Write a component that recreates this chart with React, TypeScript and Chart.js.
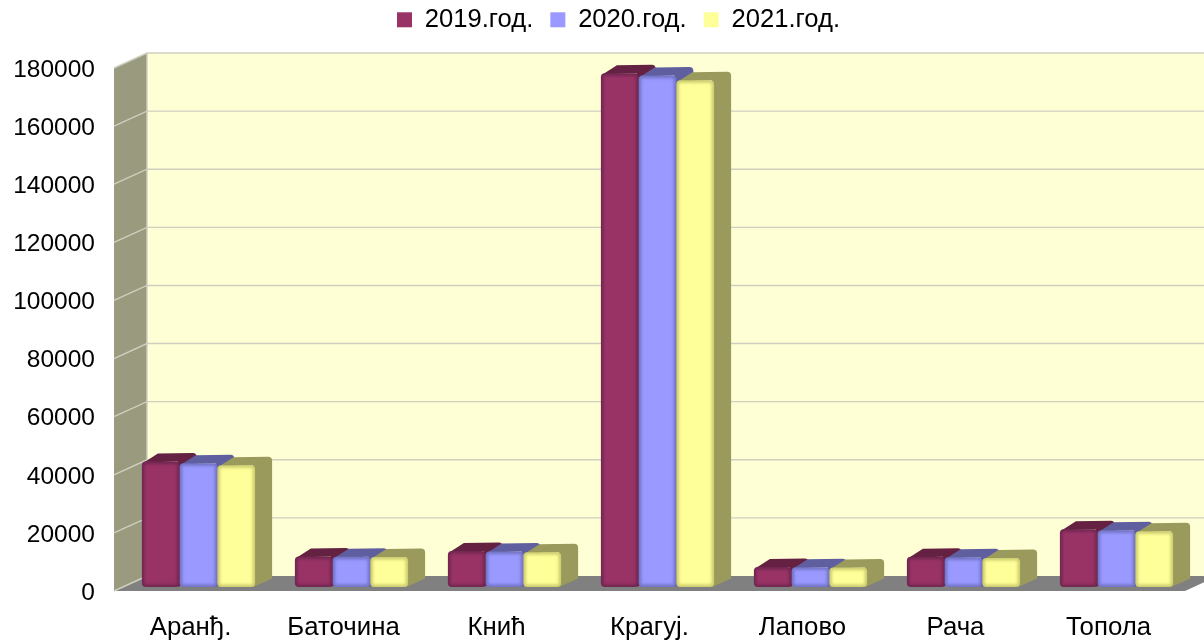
import React, { useEffect, useRef } from "react";
import { Chart, registerables } from "chart.js";

Chart.register(...registerables);

const categories = ["Аранђ.", "Баточина", "Кнић", "Крагуј.", "Лапово", "Рача", "Топола"];
const seriesNames = ["2019.год.", "2020.год.", "2021.год."];
const values2019 = [43200, 10500, 12400, 176800, 6900, 10400, 19900];
const values2020 = [42600, 10400, 12200, 176000, 6800, 10200, 19500];
const values2021 = [41900, 10300, 12000, 174400, 6700, 10000, 19200];
const frontColors = ["#993366", "#9999ff", "#ffff99"];
const edgeColors = ["#702650", "#7272c4", "#cccc70"];
const depthColors = ["#642142", "#5f5f9f", "#9a9a5c"];

const FONT = '"Liberation Sans", Arial, sans-serif';
const WALL_DX = 33;
const WALL_DY = 15;
const BAR_OFF_X = 8;
const BAR_OFF_Y = 4;
const BAR_DX = 17;
const BAR_DY = 8.5;
const LEGEND_SHIFT = 26;

const wallsPlugin = {
  id: "walls3d",
  beforeLayout(chart: any) {
    const legend = chart.legend;
    if (legend && !legend.__patched) {
      const fit = legend.fit;
      legend.fit = function () {
        fit.call(this);
        this.height = 78;
      };
      legend.__patched = true;
    }
  },
  afterLayout(chart: any) {
    chart.legend.left += LEGEND_SHIFT;
    chart.legend.right += LEGEND_SHIFT;
  },
  beforeDatasetsDraw(chart: any) {
    const { ctx, chartArea: a, scales } = chart;
    const y = scales.y;
    ctx.save();
    ctx.fillStyle = "#ffffd6";
    ctx.fillRect(a.left + WALL_DX, a.top - WALL_DY, a.right - a.left, a.bottom - a.top);
    ctx.fillStyle = "#9a9a7e";
    ctx.beginPath();
    ctx.moveTo(a.left, a.top);
    ctx.lineTo(a.left + WALL_DX, a.top - WALL_DY);
    ctx.lineTo(a.left + WALL_DX, a.bottom - WALL_DY);
    ctx.lineTo(a.left, a.bottom);
    ctx.closePath();
    ctx.fill();
    ctx.fillStyle = "#808080";
    ctx.beginPath();
    ctx.moveTo(a.left, a.bottom);
    ctx.lineTo(a.left + WALL_DX, a.bottom - WALL_DY);
    ctx.lineTo(a.right + WALL_DX, a.bottom - WALL_DY);
    ctx.lineTo(a.right, a.bottom);
    ctx.closePath();
    ctx.fill();
    ctx.strokeStyle = "#cfcfc0";
    ctx.lineWidth = 1.4;
    y.ticks.forEach((t: any) => {
      const py = y.getPixelForValue(t.value);
      ctx.beginPath();
      ctx.moveTo(a.left, py);
      ctx.lineTo(a.left + WALL_DX, py - WALL_DY);
      if (t.value > 0) ctx.lineTo(a.right + WALL_DX, py - WALL_DY);
      ctx.stroke();
    });
    ctx.beginPath();
    ctx.moveTo(a.left + WALL_DX, a.top - WALL_DY);
    ctx.lineTo(a.left + WALL_DX, a.bottom - WALL_DY);
    ctx.stroke();
    ctx.restore();

    // Bars are painted here so that, within a group, each later series sits over the earlier one's side face.
    chart.data.datasets.forEach((_: any, i: number) => {
      chart.getDatasetMeta(i).data.forEach((bar: any) => {
        const p = bar.getProps(["x", "y", "base", "width"], true);
        const x0 = p.x - p.width / 2 + BAR_OFF_X;
        const x1 = p.x + p.width / 2 + BAR_OFF_X;
        const top = p.y - BAR_OFF_Y;
        const bot = p.base - BAR_OFF_Y;
        ctx.save();
        ctx.fillStyle = depthColors[i];
        ctx.beginPath();
        ctx.moveTo(x0 + 2, top + 1);
        ctx.lineTo(x0 + BAR_DX - 1, top - BAR_DY + 0.5);
        ctx.lineTo(x1 + BAR_DX - 4, top - BAR_DY);
        ctx.quadraticCurveTo(x1 + BAR_DX, top - BAR_DY, x1 + BAR_DX, top - BAR_DY + 4);
        ctx.lineTo(x1 + BAR_DX, bot - BAR_DY);
        ctx.lineTo(x1 - 2, bot);
        ctx.lineTo(x1 - 2, top);
        ctx.closePath();
        ctx.fill();
        const w = x1 - x0;
        const h = bot - top;
        ctx.beginPath();
        ctx.roundRect(x0, top, w, h, 4);
        ctx.fillStyle = edgeColors[i];
        ctx.fill();
        ctx.clip();
        ctx.filter = "blur(1.6px)";
        ctx.fillStyle = frontColors[i];
        ctx.fillRect(x0 + 2.5, top + 2.5, w - 5, h - 5);
        ctx.restore();
      });
    });
  },
  beforeDatasetDraw() {
    return false;
  },
};

export default function App() {
  const ref = useRef<HTMLCanvasElement>(null);
  useEffect(() => {
    const chart = new Chart(ref.current as HTMLCanvasElement, {
      type: "bar",
      data: {
        labels: categories,
        datasets: [values2019, values2020, values2021].map((d, i) => ({
          label: seriesNames[i],
          data: d,
          backgroundColor: frontColors[i],
          categoryPercentage: 0.74,
          barPercentage: 1,
        })),
      },
      options: {
        responsive: false,
        animation: false,
        devicePixelRatio: 1,
        layout: { padding: { top: -10, right: 19, left: 0, bottom: 0 } },
        plugins: {
          tooltip: { enabled: false },
          legend: {
            position: "top",
            labels: {
              boxWidth: 15,
              boxHeight: 15,
              padding: 17,
              color: "#000",
              font: { family: FONT, size: 25.6 },
            },
          },
        },
        scales: {
          x: {
            grid: { display: false },
            border: { display: false },
            afterFit(s: any) {
              s.height = 51;
            },
            ticks: { color: "#000", padding: 13, maxRotation: 0, font: { family: FONT, size: 25.8 } },
          },
          y: {
            min: 0,
            max: 180000,
            grid: { display: false, drawTicks: false },
            border: { display: false },
            afterFit(s: any) {
              s.width = 114;
            },
            ticks: {
              color: "#000",
              padding: 19,
              stepSize: 20000,
              labelOffset: 2,
              font: { family: FONT, size: 24.5 },
              callback: (v: any) => String(v),
            },
          },
        },
      },
      plugins: [wallsPlugin],
    } as any);
    return () => chart.destroy();
  }, []);
  return (
    <div style={{ position: "absolute", left: 0, top: 0, width: 1204, height: 642, background: "#fff" }}>
      <canvas ref={ref} width={1204} height={642} style={{ display: "block" }} />
    </div>
  );
}
